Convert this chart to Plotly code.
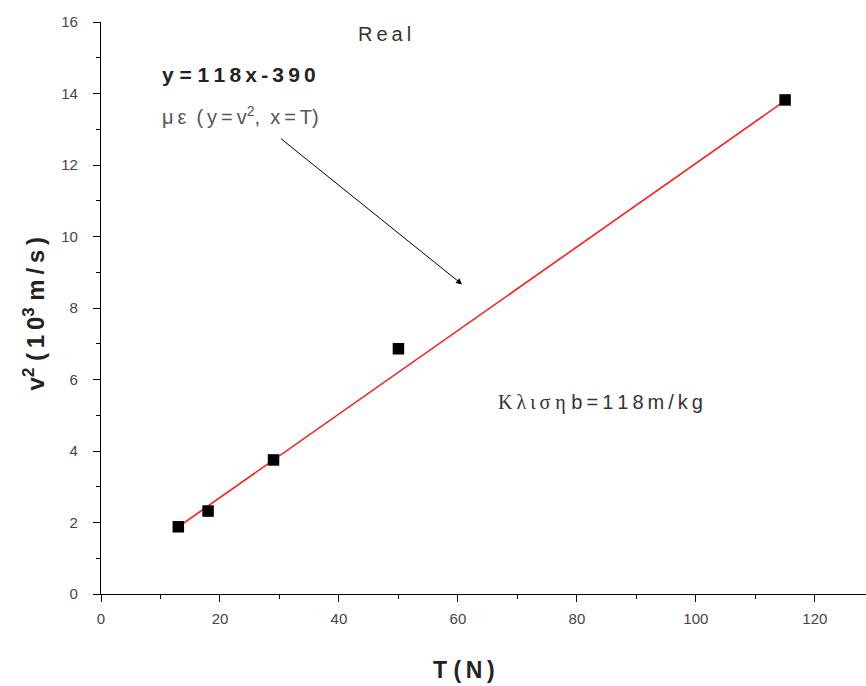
import plotly.graph_objects as go

# Data
T_vals = [13, 18, 29, 50, 115]          # T (N)
v2_vals = [1.88, 2.32, 3.75, 6.86, 13.82]  # v^2 (10^3 m/s)

fit_x = [13, 115]
fit_y = [1.88, 13.8]

x_ticks = [0, 20, 40, 60, 80, 100, 120]
y_ticks = [0, 2, 4, 6, 8, 10, 12, 14, 16]

SANS = "Liberation Sans, Arial, sans-serif"
TS = "\u2009"   # thin space
ES = "\u2002"   # en space


def spaced(s, sep=TS):
    out = ""
    for i, c in enumerate(s):
        out += c
        if i < len(s) - 1 and c != " " and s[i + 1] != " ":
            out += sep
    return out


fig = go.Figure()
fig.add_trace(go.Scatter(x=fit_x, y=fit_y, mode="lines",
                         line=dict(color="#ff1a1a", width=1.6), showlegend=False))
fig.add_trace(go.Scatter(x=T_vals, y=v2_vals, mode="markers",
                         marker=dict(symbol="square", size=11.5, color="black"),
                         showlegend=False))

fig.update_layout(
    width=866, height=686,
    margin=dict(l=101, r=0, t=22, b=92),
    paper_bgcolor="white", plot_bgcolor="white",
    font=dict(family=SANS, color="#333"),
    xaxis=dict(range=[0, 128.6], tickvals=x_ticks, ticks="outside", ticklen=7,
               tickwidth=1.2, tickcolor="black", showline=True, linecolor="black",
               linewidth=1.3, showgrid=False, zeroline=False, automargin=False,
               tickfont=dict(size=15, color="#444"), ticklabelstandoff=4,
               minor=dict(ticks="outside", ticklen=4, dtick=10, tickcolor="black", showgrid=False)),
    yaxis=dict(range=[0, 16], tickvals=y_ticks, ticks="outside", ticklen=7,
               tickwidth=1.2, tickcolor="black", showline=True, linecolor="black",
               linewidth=1.3, showgrid=False, zeroline=False, automargin=False,
               tickfont=dict(size=15, color="#444"), ticklabelstandoff=12,
               minor=dict(ticks="outside", ticklen=4, dtick=1, tickcolor="black", showgrid=False)),
)

# axis titles as annotations (the reference's x title is off-centre)
fig.add_annotation(x=0.475, y=-0.133, xref="paper", yref="paper", xanchor="center", yanchor="middle",
                   text="<b>" + spaced("T (N)", TS) + "</b>", showarrow=False,
                   font=dict(size=23, color="#222", family=SANS))
fig.add_annotation(x=-0.088, y=0.49, xref="paper", yref="paper", xanchor="center", yanchor="middle",
                   textangle=-90,
                   text=f"<b>v<sup>2</sup> ({TS}1{TS}0<sup>3</sup> m{TS}/{TS}s{TS})</b>",
                   showarrow=False, font=dict(size=24, color="#222", family=SANS))

fig.add_annotation(x=0.37, y=15.66, xref="paper", yref="y", xanchor="center", yanchor="middle",
                   text=spaced("Real"), showarrow=False,
                   font=dict(size=20, color="#333", family=SANS))
fig.add_annotation(x=9.9, y=14.54, xref="x", yref="y", xanchor="left", yanchor="middle",
                   text="<b>" + spaced("y = 118x-390") + "</b>", showarrow=False,
                   font=dict(size=21, color="#222", family=SANS))
fig.add_annotation(x=9.9, y=13.39, xref="x", yref="y", xanchor="left", yanchor="middle",
                   text=f"μ{TS}ε{ES}({TS}y{TS}={TS}v<sup>2</sup>,{ES}x{TS}={TS}T)",
                   showarrow=False, font=dict(size=20, color="#555", family=SANS))
fig.add_annotation(x=60.7, y=8.66, ax=30.0, ay=12.77, xref="x", yref="y", axref="x", ayref="y",
                   text="", showarrow=True, arrowhead=2, arrowsize=1.2, arrowwidth=1,
                   arrowcolor="black")
fig.add_annotation(x=66.4, y=5.35, xref="x", yref="y", xanchor="left", yanchor="middle",
                   text=f"<span style=\"font-family:Liberation Serif\">{spaced('Κλισ η')}</span> {spaced('b=118m/kg')}",
                   showarrow=False, font=dict(size=20, color="#333", family=SANS))

fig.write_html("out.html", post_script="document.body.style.margin='0';",
               config={"displayModeBar": False})
